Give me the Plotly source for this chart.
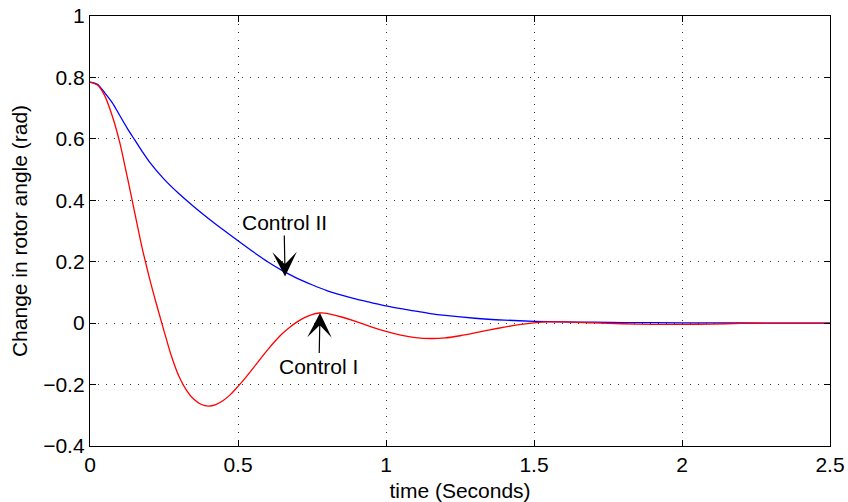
import plotly.graph_objects as go

# Control II (blue)
t_blue = [0, 0.025, 0.05, 0.075, 0.1, 0.125, 0.15, 0.175, 0.2, 0.25, 0.3, 0.35, 0.4, 0.45,
          0.5, 0.55, 0.6, 0.65, 0.7, 0.75, 0.8, 0.85, 0.9, 0.95, 1.0, 1.05, 1.1, 1.15,
          1.2, 1.3, 1.4, 1.5, 1.6, 1.7, 1.8, 2.0, 2.2, 2.5]
y_blue = [0.785, 0.778, 0.75, 0.718, 0.677, 0.636, 0.598, 0.561, 0.526, 0.469, 0.422, 0.38,
          0.341, 0.304, 0.268, 0.233, 0.2, 0.171, 0.146, 0.125, 0.106, 0.091, 0.078,
          0.067, 0.056, 0.047, 0.039, 0.031, 0.025, 0.016, 0.010, 0.006, 0.004, 0.003,
          0.002, 0.001, 0.0005, 0.0]

# Control I (red)
t_red = [0, 0.025, 0.05, 0.075, 0.1, 0.125, 0.15, 0.175, 0.2, 0.225, 0.25, 0.275, 0.3,
         0.325, 0.35, 0.375, 0.4, 0.425, 0.45, 0.475, 0.5, 0.525, 0.55, 0.575, 0.6, 0.625,
         0.65, 0.675, 0.7, 0.725, 0.75, 0.775, 0.8, 0.85, 0.9, 0.95, 1.0, 1.05, 1.1, 1.15,
         1.2, 1.25, 1.3, 1.35, 1.4, 1.45, 1.5, 1.55, 1.6, 1.7, 1.8, 1.9, 2.0, 2.1, 2.2,
         2.3, 2.5]
y_red = [0.785, 0.775, 0.74, 0.675, 0.59, 0.48, 0.365, 0.25, 0.15, 0.06, -0.025, -0.107,
         -0.172, -0.217, -0.247, -0.264, -0.27, -0.265, -0.252, -0.232, -0.206, -0.178,
         -0.148, -0.117, -0.087, -0.059, -0.034, -0.013, 0.004, 0.018, 0.028, 0.033, 0.032,
         0.02, 0.005, -0.012, -0.027, -0.039, -0.047, -0.05, -0.048, -0.041, -0.032,
         -0.022, -0.013, -0.005, 0.001, 0.004, 0.004, 0.001, -0.002, -0.004, -0.004,
         -0.003, -0.001, 0.0, 0.0]

x_ticks = [0, 0.5, 1, 1.5, 2, 2.5]
x_tick_text = ["0", "0.5", "1", "1.5", "2", "2.5"]
y_ticks = [-0.4, -0.2, 0, 0.2, 0.4, 0.6, 0.8, 1]
y_tick_text = ["\u22120.4", "\u22120.2", "0", "0.2", "0.4", "0.6", "0.8", "1"]

labels = ["Control II", "Control I"]
label_points = [(0.659, 0.152), (0.777, 0.033)]
label_offsets = [(-1, -54), (-1, 53)]

font_family = "Liberation Sans, Arial, sans-serif"
fs = 21

fig = go.Figure()
fig.add_trace(go.Scatter(x=t_blue, y=y_blue, mode="lines",
                         line=dict(color="#0000ff", width=1.3, shape="spline", smoothing=0.8),
                         showlegend=False))
fig.add_trace(go.Scatter(x=t_red, y=y_red, mode="lines",
                         line=dict(color="#ff0000", width=1.3, shape="spline", smoothing=0.8),
                         showlegend=False))

for txt, (px, py), (ax, ay) in zip(labels, label_points, label_offsets):
    fig.add_annotation(x=px, y=py, xref="x", yref="y", text=txt, showarrow=True,
                       ax=ax, ay=ay, arrowhead=3, arrowsize=3.4, arrowwidth=1.2,
                       arrowcolor="black", font=dict(size=fs, color="black", family=font_family))

axis_common = dict(showline=True, linecolor="black", linewidth=1.3, mirror="ticks",
                   ticks="inside", ticklen=6, tickcolor="black", tickwidth=1,
                   showgrid=True, gridcolor="#333333", gridwidth=1, griddash="1px,7px",
                   zeroline=False, automargin=False,
                   tickfont=dict(size=fs, color="black", family=font_family))

fig.update_xaxes(range=[0, 2.5], tickvals=x_ticks, ticktext=x_tick_text,
                 title=dict(text="time (Seconds)", font=dict(size=fs, color="black", family=font_family), standoff=8),
                 **axis_common)
fig.update_yaxes(range=[-0.4, 1], tickvals=y_ticks, ticktext=y_tick_text,
                 title=dict(text="Change in rotor angle (rad)", font=dict(size=fs, color="black", family=font_family), standoff=9),
                 **axis_common)

fig.update_layout(width=848, height=502, margin=dict(l=90, r=18, t=16, b=56),
                  plot_bgcolor="white", paper_bgcolor="white",
                  font=dict(family=font_family, size=fs, color="black"))

fig.write_html("out.html")
